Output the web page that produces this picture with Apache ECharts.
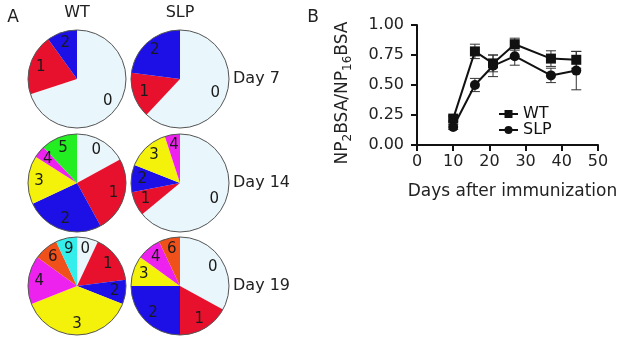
<!DOCTYPE html>
<html>
<head>
<meta charset="utf-8">
<script src="https://cdn.jsdelivr.net/npm/echarts@6/dist/echarts.min.js"></script>
<style>
  html, body { margin: 0; padding: 0; background: #fff; }
  #main { width: 629px; height: 338px; }
</style>
</head>
<body>
<div id="main"></div>
<script>
// ---- panel A: share of clones by number of mutations ----
var mutCats = ['0', '1', '2', '3', '4', '5', '6', '9'];
var mutColors = ['#e9f6fb', '#e8112d', '#1c10e6', '#f4f20a', '#ee22ee', '#22ee22', '#f0501a', '#33eeea'];
var groups = ['WT', 'SLP'];
var days = ['Day 7', 'Day 14', 'Day 19'];

var wtDay7 = [70, 20, 10, 0, 0, 0, 0, 0];
var slpDay7 = [62, 15, 23, 0, 0, 0, 0, 0];
var wtDay14 = [17, 25, 26, 16, 4, 12, 0, 0];
var slpDay14 = [64, 8, 9, 14, 5, 0, 0, 0];
var wtDay19 = [7, 16, 8, 38, 16, 0, 8, 7];
var slpDay19 = [33, 17, 25, 10, 8, 0, 7, 0];

// ---- panel B: NP2BSA/NP16BSA ratio ----
var dayX = [10, 16, 21, 27, 37, 44];
var wtRatio = [0.22, 0.78, 0.68, 0.84, 0.72, 0.71];
var wtErr = [0.02, 0.06, 0.07, 0.05, 0.065, 0.07];
var slpRatio = [0.15, 0.50, 0.66, 0.74, 0.58, 0.62];
var slpErr = [0.02, 0.055, 0.09, 0.075, 0.06, 0.16];
var xTicks = [0, 10, 20, 30, 40, 50];
var yTicks = [0, 0.25, 0.5, 0.75, 1];

var FONT = '"DejaVu Sans", "Liberation Sans", sans-serif';
var chart = echarts.init(document.getElementById('main'));

var pieTable = [[wtDay7, slpDay7], [wtDay14, slpDay14], [wtDay19, slpDay19]];
var colX = [77, 180];
var rowY = [79, 183, 286];
var R = 49;

function pieData(vals) {
  var out = [];
  vals.forEach(function (v, i) {
    if (v > 0) out.push({ name: mutCats[i], value: v, itemStyle: { color: mutColors[i] } });
  });
  return out;
}

var series = [];
pieTable.forEach(function (row, r) {
  row.forEach(function (vals, c) {
    var center = [colX[c], rowY[r]];
    // filled slices
    series.push({
      type: 'pie', center: center, radius: [0, R], startAngle: 90, clockwise: true,
      silent: true, animation: false, label: { show: false }, labelLine: { show: false },
      data: pieData(vals)
    });
    // labels placed at ~3/4 radius through a transparent ring
    series.push({
      type: 'pie', center: center, radius: [21, R], startAngle: 90, clockwise: true,
      silent: true, animation: false,
      itemStyle: { color: 'rgba(0,0,0,0)' },
      label: { show: true, position: 'inside', formatter: '{b}', color: '#1a1a1a', fontSize: 15, fontFamily: FONT },
      labelLine: { show: false },
      data: pieData(vals).map(function (d) { return { name: d.name, value: d.value }; })
    });
    // outline
    series.push({
      type: 'pie', center: center, radius: [0, R], silent: true, animation: false,
      itemStyle: { color: 'rgba(0,0,0,0)', borderColor: '#555', borderWidth: 1 },
      label: { show: false }, labelLine: { show: false },
      data: [1]
    });
  });
});

function errRender(params, api) {
  var x = api.value(0), y = api.value(1), e = api.value(2);
  var hi = api.coord([x, y + e]);
  var lo = api.coord([x, y - e]);
  var w = 5;
  var st = { stroke: '#333', lineWidth: 1 };
  return {
    type: 'group',
    children: [
      { type: 'line', shape: { x1: hi[0], y1: hi[1], x2: lo[0], y2: lo[1] }, style: st },
      { type: 'line', shape: { x1: hi[0] - w, y1: hi[1], x2: hi[0] + w, y2: hi[1] }, style: st },
      { type: 'line', shape: { x1: lo[0] - w, y1: lo[1], x2: lo[0] + w, y2: lo[1] }, style: st }
    ]
  };
}

series.push({
  type: 'custom', name: 'wtErr', renderItem: errRender, silent: true, animation: false,
  data: dayX.map(function (d, i) { return [d, wtRatio[i], wtErr[i]]; }), z: 1
});
series.push({
  type: 'custom', name: 'slpErr', renderItem: errRender, silent: true, animation: false,
  data: dayX.map(function (d, i) { return [d, slpRatio[i], slpErr[i]]; }), z: 1
});
series.push({
  type: 'line', name: 'WT', symbol: 'rect', symbolSize: 10, animation: false,
  lineStyle: { color: '#111', width: 2 }, itemStyle: { color: '#111' },
  data: dayX.map(function (d, i) { return [d, wtRatio[i]]; }), z: 3
});
series.push({
  type: 'line', name: 'SLP', symbol: 'circle', symbolSize: 10, animation: false,
  lineStyle: { color: '#111', width: 2 }, itemStyle: { color: '#111' },
  data: dayX.map(function (d, i) { return [d, slpRatio[i]]; }), z: 3
});

var graphics = [
  { type: 'text', x: 13, y: 18, style: { text: 'A', font: '17px ' + FONT, fill: '#222', align: 'center', verticalAlign: 'middle' } },
  { type: 'text', x: 313, y: 18, style: { text: 'B', font: '17px ' + FONT, fill: '#222', align: 'center', verticalAlign: 'middle' } }
];
groups.forEach(function (g, i) {
  graphics.push({ type: 'text', x: colX[i], y: 13, style: { text: g, font: '16px ' + FONT, fill: '#222', align: 'center', verticalAlign: 'middle' } });
});
days.forEach(function (d, i) {
  graphics.push({ type: 'text', x: 233, y: rowY[i], style: { text: d, font: '16px ' + FONT, fill: '#222', align: 'left', verticalAlign: 'middle' } });
});

var option = {
  backgroundColor: '#fff',
  animation: false,
  graphic: graphics,
  legend: {
    data: ['WT', 'SLP'], orient: 'vertical', left: 493, top: 101,
    itemWidth: 19, itemHeight: 10, itemGap: 0,
    textStyle: { color: '#111', fontSize: 16, fontFamily: FONT, lineHeight: 13 }
  },
  grid: { left: 417, right: 31, top: 25, bottom: 193 },
  xAxis: {
    type: 'value', min: xTicks[0], max: xTicks[xTicks.length - 1], interval: 10,
    name: 'Days after immunization', nameLocation: 'middle', nameGap: 38,
    nameTextStyle: { color: '#222', fontSize: 17, fontFamily: FONT, padding: [0, 0, 0, 10] },
    axisLine: { lineStyle: { color: '#111', width: 2 } },
    axisTick: { show: true, length: 6, lineStyle: { color: '#111', width: 2 } },
    axisLabel: { color: '#222', fontSize: 16, fontFamily: FONT, margin: 9 },
    splitLine: { show: false }
  },
  yAxis: {
    type: 'value', min: yTicks[0], max: yTicks[yTicks.length - 1], interval: 0.25,
    name: '{m|NP}{s|2}{m|BSA/NP}{s|16}{m|BSA}', nameLocation: 'middle', nameGap: 66, nameRotate: 90,
    nameTextStyle: {
      color: '#222', fontFamily: FONT, padding: [0, 16, 0, 0],
      rich: {
        m: { fontSize: 17, fontFamily: FONT, color: '#222', lineHeight: 17, verticalAlign: 'top' },
        s: { fontSize: 12, fontFamily: FONT, color: '#222', lineHeight: 12, padding: [8, 0, 0, 0], verticalAlign: 'top' }
      }
    },
    axisLine: { show: true, lineStyle: { color: '#111', width: 2 } },
    axisTick: { show: true, length: 6, lineStyle: { color: '#111', width: 2 } },
    axisLabel: { color: '#222', fontSize: 16, fontFamily: FONT, margin: 13, formatter: function (v) { return v.toFixed(2); } },
    splitLine: { show: false }
  },
  series: series
};

chart.setOption(option);
</script>
</body>
</html>
